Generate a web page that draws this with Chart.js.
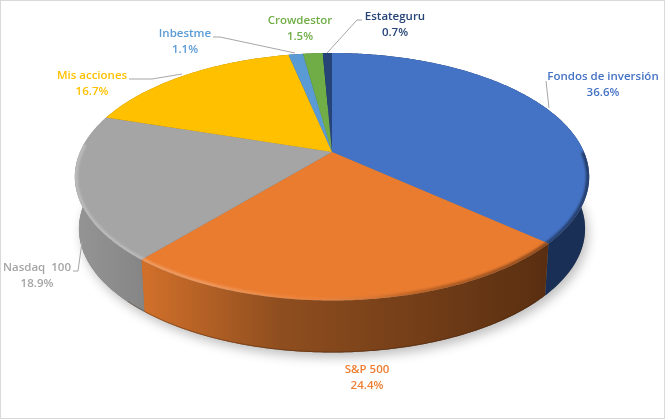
<!DOCTYPE html>
<html>
<head>
<meta charset="utf-8">
<style>
  html, body { margin: 0; padding: 0; background: #fff; overflow: hidden; }
  #wrap { position: relative; width: 665px; height: 420px; }
  #frame { position: absolute; left: 0; top: 0; width: 663px; height: 417px; border: 1px solid #d9d9d9; }
</style>
<script src="https://cdn.jsdelivr.net/npm/chart.js@4/dist/chart.umd.min.js"></script>
</head>
<body>
<div id="wrap">
  <canvas id="chart" width="665" height="420"></canvas>
  <div id="frame"></div>
</div>
<script>
const categories = ['Fondos de inversión', 'S&P 500', 'Nasdaq  100', 'Mis acciones', 'Inbestme', 'Crowdestor', 'Estateguru'];
const shares = [36.6, 24.4, 18.9, 16.7, 1.1, 1.5, 0.7];
const percentLabels = ['36.6%', '24.4%', '18.9%', '16.7%', '1.1%', '1.5%', '0.7%'];

const topColors = ['#4472c4', '#ea7c30', '#a5a5a5', '#ffc000', '#5b9bd5', '#70ad47', '#264478'];
const sideColors = [
    ['#1a2f55', '#1a2f55'],
    ['#cf6f2a', '#5a2f11'],
    ['#959595', '#848484'],
    ['#997300', '#997300'],
    ['#37658f', '#37658f'],
    ['#44682b', '#44682b'],
    ['#16294a', '#16294a']
];
const textColors = ['#4472c4', '#ed7d31', '#a5a5a5', '#ffc000', '#5b9bd5', '#70ad47', '#264478'];

// label centre x, first line y (the second line sits 16px below)
const labelAnchors = [[603, 77], [367, 370], [37, 268], [92, 76], [185, 34], [300, 21], [395, 17]];
const leaderLines = [
    [[546, 81], [549, 108]],
    null,
    [[73, 271], [78, 271], [82, 242]],
    [[129, 79], [152, 79], [182, 74]],
    [[213, 37], [220, 37], [295, 53]],
    null,
    [[362, 20], [357, 20], [327, 53]]
];

// tilted disc: unit circle -> page, near side larger than far side
const tilt = { cx: 332, cy: 152, rx: 252, ry: 118.8, near: 0.2, depth: 52, shrink: 0.984 };

function project(angle) {
    const x = Math.cos(angle), y = Math.sin(angle);
    const w = 1 - tilt.near * y;
    return [tilt.cx + tilt.rx * x / w, tilt.cy + tilt.ry * y / w];
}

function projectBottom(angle) {
    const p = project(angle);
    return [tilt.cx + (p[0] - tilt.cx) * tilt.shrink, p[1] + tilt.depth];
}

function tracePoints(ctx, from, to, fn, first) {
    const steps = Math.max(2, Math.ceil(Math.abs(to - from) / 0.01));
    for (let i = 0; i <= steps; i++) {
        const p = fn(from + (to - from) * i / steps);
        if (i === 0 && first) ctx.moveTo(p[0], p[1]);
        else ctx.lineTo(p[0], p[1]);
    }
}

const tiltedPie = {
    id: 'tiltedPie',
    beforeDatasetsDraw(chart) {
        const ctx = chart.ctx;
        const arcs = chart.getDatasetMeta(0).data;

        // soft shadow under the disc
        ctx.save();
        ctx.shadowColor = 'rgba(0,0,0,0.25)';
        ctx.shadowBlur = 11;
        ctx.shadowOffsetX = 3;
        ctx.shadowOffsetY = 5;
        ctx.fillStyle = '#777';
        ctx.beginPath();
        tracePoints(ctx, 0, Math.PI * 2, projectBottom, true);
        ctx.closePath();
        ctx.fill();
        ctx.restore();

        // sides
        arcs.forEach((arc, i) => {
            const g = ctx.createLinearGradient(148, 0, 545, 0);
            g.addColorStop(0, sideColors[i][0]);
            g.addColorStop(0.33, i === 1 ? '#8f4e1f' : sideColors[i][0]);
            g.addColorStop(1, sideColors[i][1]);
            ctx.fillStyle = g;
            if (i === 2) {
                const gg = ctx.createLinearGradient(75, 0, 150, 0);
                gg.addColorStop(0, sideColors[2][0]);
                gg.addColorStop(1, sideColors[2][1]);
                ctx.fillStyle = gg;
            }
            ctx.beginPath();
            tracePoints(ctx, arc.startAngle, arc.endAngle, project, true);
            tracePoints(ctx, arc.endAngle, arc.startAngle, projectBottom, false);
            ctx.closePath();
            ctx.fill();
        });

        // thin dark line along the bottom edge
        ctx.save();
        ctx.strokeStyle = 'rgba(60,30,10,0.35)';
        ctx.lineWidth = 1;
        ctx.beginPath();
        tracePoints(ctx, Math.PI * 0.25, Math.PI * 0.75, (a) => {
            const p = projectBottom(a);
            return [p[0], p[1] - 0.5];
        }, true);
        ctx.stroke();
        ctx.restore();

        // top faces with a bevel along the near rim
        arcs.forEach((arc, i) => {
            ctx.save();
            ctx.beginPath();
            ctx.moveTo(tilt.cx, tilt.cy);
            tracePoints(ctx, arc.startAngle, arc.endAngle, project, false);
            ctx.closePath();
            ctx.fillStyle = topColors[i];
            ctx.fill();
            ctx.clip();

            const bevel = ctx.createLinearGradient(74, 0, 590, 0);
            bevel.addColorStop(0, 'rgba(255,255,255,0.26)');
            bevel.addColorStop(0.25, 'rgba(255,255,255,0.24)');
            bevel.addColorStop(0.45, 'rgba(255,255,255,0.05)');
            bevel.addColorStop(0.65, 'rgba(0,0,0,0.2)');
            bevel.addColorStop(1, 'rgba(0,0,0,0.5)');
            ctx.filter = 'blur(1.2px)';
            ctx.strokeStyle = bevel;
            ctx.lineWidth = 3.5;
            ctx.beginPath();
            tracePoints(ctx, 0, Math.PI * 1.02, (a) => {
                const p = project(a);
                return [tilt.cx + (p[0] - tilt.cx) * 0.995, tilt.cy + 24 + (p[1] - tilt.cy - 24) * 0.992];
            }, true);
            ctx.stroke();
            ctx.restore();
        });
        return false;
    },
    // afterDatasetsDraw does not fire when the dataset pass is cancelled above
    afterDraw(chart) {
        const ctx = chart.ctx;
        ctx.save();
        ctx.strokeStyle = '#a6a6a6';
        ctx.lineWidth = 1;
        leaderLines.forEach(line => {
            if (!line) return;
            ctx.beginPath();
            line.forEach((p, k) => k ? ctx.lineTo(p[0], p[1]) : ctx.moveTo(p[0], p[1]));
            ctx.stroke();
        });
        ctx.font = '600 11.5px "Open Sans"';
        ctx.textAlign = 'center';
        ctx.textBaseline = 'middle';
        categories.forEach((name, i) => {
            ctx.fillStyle = textColors[i];
            ctx.fillText(name, labelAnchors[i][0], labelAnchors[i][1]);
            ctx.fillText(percentLabels[i], labelAnchors[i][0], labelAnchors[i][1] + 16);
        });
        ctx.restore();
    }
};

new Chart(document.getElementById('chart').getContext('2d'), {
    type: 'pie',
    data: {
        labels: categories,
        datasets: [{ data: shares, backgroundColor: topColors, borderWidth: 0 }]
    },
    options: {
        responsive: false,
        animation: false,
        events: [],
        plugins: { legend: { display: false }, tooltip: { enabled: false } }
    },
    plugins: [tiltedPie]
});
</script>
</body>
</html>
